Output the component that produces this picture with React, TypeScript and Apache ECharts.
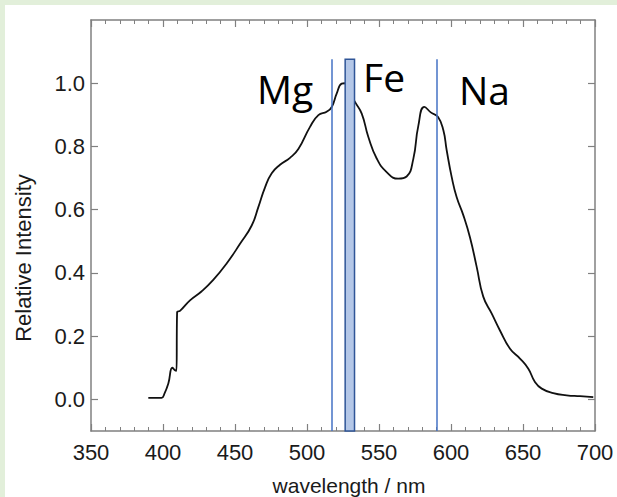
import React, { useEffect, useRef } from "react";
import * as echarts from "echarts";

const wavelengths = [389.8, 399, 401, 403.7, 406.5, 408.3, 409.3, 409.8, 411.8, 418.75, 426.9, 434.9, 444.2, 453.5, 461.6, 466.2, 470.8, 475.5, 481.25, 488.2, 494, 502.1, 507.9, 513.7, 517.2, 520.6, 524.1, 526, 528.5, 531, 533.3, 538, 542.6, 548.4, 555.3, 563.4, 569.2, 573.8, 577.3, 581.5, 586.2, 591, 594.7, 597, 600.5, 603.9, 608.6, 613.2, 617.8, 622.4, 628.3, 634, 641, 647.9, 653.7, 658.3, 663, 671, 680.3, 689.6, 698.8];
const intensities = [0.005, 0.005, 0.018, 0.05, 0.10, 0.092, 0.09, 0.276, 0.28, 0.313, 0.342, 0.378, 0.43, 0.492, 0.55, 0.608, 0.67, 0.715, 0.742, 0.764, 0.792, 0.862, 0.899, 0.91, 0.925, 0.967, 0.999, 1.0, 0.985, 0.96, 0.941, 0.904, 0.83, 0.762, 0.719, 0.698, 0.705, 0.76, 0.865, 0.925, 0.907, 0.893, 0.851, 0.788, 0.703, 0.64, 0.582, 0.512, 0.42, 0.325, 0.271, 0.218, 0.16, 0.129, 0.097, 0.055, 0.034, 0.02, 0.013, 0.01, 0.007];
const yTicks = [0, 0.2, 0.4, 0.6, 0.8, 1.0];
const mgLine = 517;
const naLine = 590;
const feBand = [526.5, 533];
const markTop = 1.076;
const elementLabels = ["Mg", "Fe", "Na"];

export default function App() {
  const ref = useRef<HTMLDivElement>(null);
  useEffect(() => {
    if (!ref.current) return;
    const chart = echarts.init(ref.current, null, { renderer: "svg" });
    const axisColor = "#808080";
    const tickFont = { fontFamily: "Liberation Sans, Arial, sans-serif", fontSize: 22, color: "#1a1a1a" };
    const data = wavelengths.map((w, i) => [w, intensities[i]]);
    const xCommon = {
      type: "value",
      min: 350,
      max: 700,
      interval: 50,
      axisLine: { show: true, onZero: false, lineStyle: { color: axisColor, width: 1.5 } },
      axisTick: { show: true, inside: true, length: 7, lineStyle: { color: axisColor, width: 1.2 } },
      minorTick: { show: true, splitNumber: 5, length: 4, lineStyle: { color: axisColor, width: 1 } },
      splitLine: { show: false },
      minorSplitLine: { show: false },
    };
    const yCommon = {
      type: "value",
      min: -0.1,
      max: 1.2,
      axisLine: { show: true, onZero: false, lineStyle: { color: axisColor, width: 1.5 } },
      axisTick: { show: true, inside: true, length: 7, customValues: yTicks, lineStyle: { color: axisColor, width: 1.2 } },
      splitLine: { show: false },
    };
    chart.setOption({
      animation: false,
      backgroundColor: "#e2efda",
      grid: { left: 91, top: 20, right: 22, bottom: 66, containLabel: false },
      xAxis: [
        {
          ...xCommon,
          position: "bottom",
          axisLabel: { ...tickFont, margin: 10 },
        },
        {
          ...xCommon,
          position: "top",
          axisLabel: { show: false },
        },
      ],
      yAxis: [
        {
          ...yCommon,
          position: "left",
          axisLabel: { ...tickFont, margin: 6, customValues: yTicks, formatter: (v: number) => v.toFixed(1) },
        },
        {
          ...yCommon,
          position: "right",
          axisLabel: { show: false },
        },
      ],
      graphic: [
        { type: "rect", z: -10, shape: { x: 5, y: 5, width: 612, height: 492 }, style: { fill: "#ffffff" } },
        {
          type: "text",
          x: 23,
          y: 258,
          rotation: Math.PI / 2,
          style: { text: "Relative Intensity", fontFamily: "Liberation Sans, Arial, sans-serif", fontSize: 22, fill: "#1a1a1a", align: "center", verticalAlign: "middle" },
        },
        {
          type: "text",
          x: 349,
          y: 485,
          style: { text: "wavelength / nm", fontFamily: "Liberation Sans, Arial, sans-serif", fontSize: 21, fill: "#1a1a1a", align: "center", verticalAlign: "middle" },
        },
        { type: "text", z: 20, x: 257, y: 88, style: { text: elementLabels[0], fontFamily: "Open Sans, Noto Sans, sans-serif", fontSize: 39, fill: "#000", align: "left", verticalAlign: "middle" } },
        { type: "text", z: 20, x: 363, y: 76, style: { text: elementLabels[1], fontFamily: "Open Sans, Noto Sans, sans-serif", fontSize: 39, fill: "#000", align: "left", verticalAlign: "middle" } },
        { type: "text", z: 20, x: 459, y: 89, style: { text: elementLabels[2], fontFamily: "Open Sans, Noto Sans, sans-serif", fontSize: 39, fill: "#000", align: "left", verticalAlign: "middle" } },
      ],
      series: [
        {
          type: "line",
          data,
          showSymbol: false,
          smooth: 0.5,
          lineStyle: { color: "#111111", width: 1.8 },
          z: 2,
        },
        {
          type: "line",
          data: [],
          z: 10,
          markLine: {
            silent: true,
            symbol: ["none", "none"],
            label: { show: false },
            lineStyle: { color: "#4472c4", width: 1.5, type: "solid" },
            data: [
              [{ coord: [mgLine, -0.1] }, { coord: [mgLine, markTop] }],
              [{ coord: [naLine, -0.1] }, { coord: [naLine, markTop] }],
            ],
          },
          markArea: {
            silent: true,
            z: 10,
            itemStyle: { color: "#b4c7e7", opacity: 1, borderColor: "#2f5597", borderWidth: 1.5 },
            label: { show: false },
            data: [[{ coord: [feBand[0], -0.1] }, { coord: [feBand[1], markTop] }]],
          },
        },
      ],
    });
    return () => chart.dispose();
  }, []);
  return (
    <div style={{ position: "fixed", left: 0, top: 0, width: 617, height: 497 }}>
      <div ref={ref} style={{ width: 617, height: 497 }} />
    </div>
  );
}
